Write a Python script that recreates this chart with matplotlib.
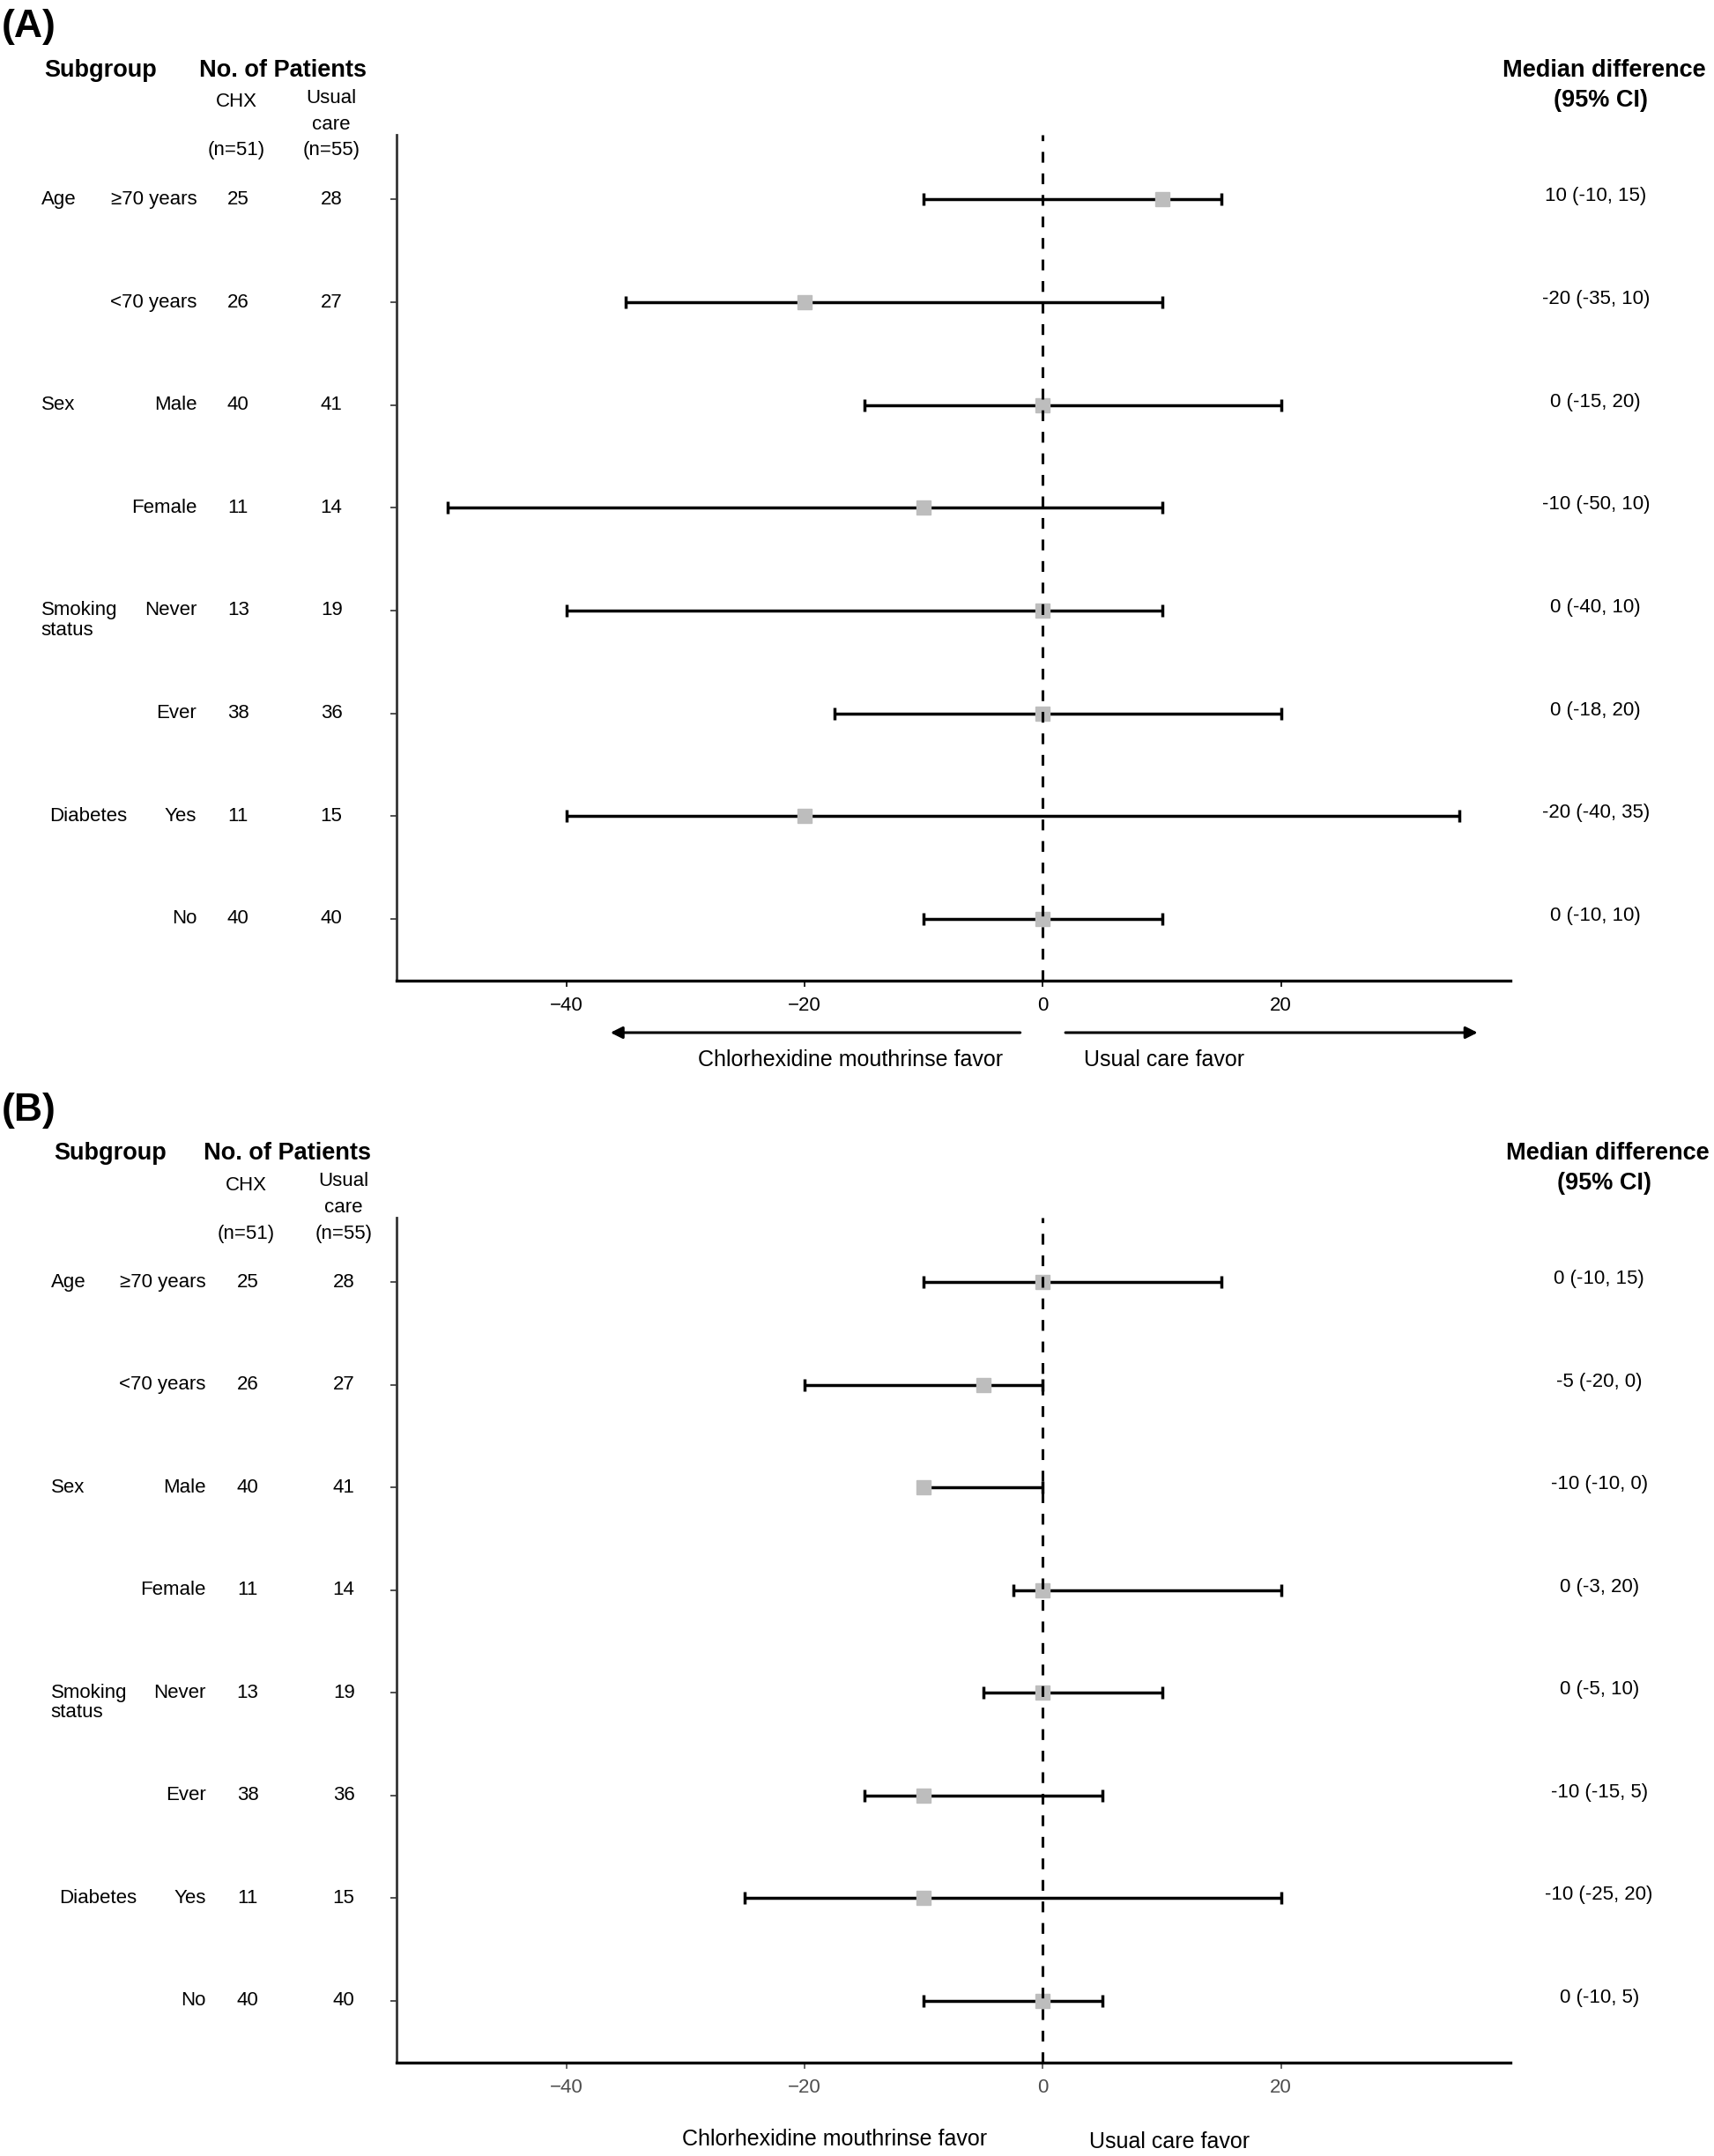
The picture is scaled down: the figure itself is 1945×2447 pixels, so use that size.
import numpy as np
import matplotlib.pyplot as plt
from matplotlib.transforms import blended_transform_factory

plt.rcParams['font.family'] = ['Liberation Sans', 'DejaVu Sans']

# rows top to bottom
groups = ['Age', '', 'Sex', '', 'Smoking\nstatus', '', 'Diabetes', '']
levels = ['≥70 years', '<70 years', 'Male', 'Female', 'Never', 'Ever', 'Yes', 'No']
n_chx = [25, 26, 40, 11, 13, 38, 11, 40]
n_usual = [28, 27, 41, 14, 19, 36, 15, 40]

# panel A
med_a = [10, -20, 0, -10, 0, 0, -20, 0]
lo_a = [-10, -35, -15, -50, -40, -17.5, -40, -10]
hi_a = [15, 10, 20, 10, 10, 20, 35, 10]
lab_a = ['10 (-10, 15)', '-20 (-35, 10)', '0 (-15, 20)', '-10 (-50, 10)',
         '0 (-40, 10)', '0 (-18, 20)', '-20 (-40, 35)', '0 (-10, 10)']

# panel B
med_b = [0, -5, -10, 0, 0, -10, -10, 0]
lo_b = [-10, -20, -10, -2.5, -5, -15, -25, -10]
hi_b = [15, 0, 0, 20, 10, 5, 20, 5]
lab_b = ['0 (-10, 15)', '-5 (-20, 0)', '-10 (-10, 0)', '0 (-3, 20)',
         '0 (-5, 10)', '-10 (-15, 5)', '-10 (-25, 20)', '0 (-10, 5)']

xticks = [-40, -20, 0, 20]

fig = plt.figure(figsize=(19.45, 24.47), dpi=100)
FS = 16
HFS = 19.5


def panel(rect, med, lo, hi, labs, tick_color, letter, top, xs):
    ax = fig.add_axes(rect)
    y = np.arange(len(med), 0, -1)
    med = np.array(med)
    err = [med - np.array(lo), np.array(hi) - med]
    ax.errorbar(med, y, xerr=err, fmt='none', ecolor='black', elinewidth=2.5,
                capsize=5, capthick=2.5, zorder=2)
    ax.plot(med, y, 's', color='#bdbdbd', markersize=12, zorder=3)
    ax.axvline(0, color='black', linestyle=(0, (4, 4)), linewidth=2.2, zorder=4)
    ax.set_xlim(-54.25, 39.25)
    ax.set_ylim(0.4, 8.63)
    ax.set_yticks(y)
    ax.set_yticklabels([])
    ax.set_xticks(xticks)
    ax.set_xticklabels([str(t).replace('-', '\u2212') for t in xticks])
    ax.tick_params(axis='x', labelsize=16, colors=tick_color, length=5, width=1.2, pad=8)
    ax.tick_params(axis='y', length=5, width=1.2, colors='#333333')
    for s in ['top', 'right']:
        ax.spines[s].set_visible(False)
    ax.spines['left'].set_color('#333333')
    ax.spines['left'].set_linewidth(2)
    ax.spines['bottom'].set_color('black')
    ax.spines['bottom'].set_linewidth(2.4)

    tr = blended_transform_factory(fig.transFigure, ax.transData)
    for i, yy in enumerate(y):
        g = groups[i]
        if g:
            gx = xs['grp'] + (0.005 if g == 'Diabetes' else 0)
            if '\n' in g:
                ax.text(gx, yy + 0.09, g, transform=tr, ha='left', va='top',
                        fontsize=FS, linespacing=1.08)
            else:
                ax.text(gx, yy, g, transform=tr, ha='left', va='center', fontsize=FS)
        ax.text(xs['lvl'], yy, levels[i], transform=tr, ha='right', va='center', fontsize=FS)
        ax.text(xs['chx'], yy, str(n_chx[i]), transform=tr, ha='center', va='center', fontsize=FS)
        ax.text(xs['usual'], yy, str(n_usual[i]), transform=tr, ha='center', va='center', fontsize=FS)
        ax.text(xs['val'], yy + 0.03, labs[i], transform=tr, ha='center', va='center', fontsize=FS)

    # headers
    fig.text(0.001, top + 0.020, letter, fontsize=32, fontweight='bold', ha='left', va='center')
    fig.text(xs['grp'] + 0.002, top, 'Subgroup', fontsize=HFS, fontweight='bold', ha='left', va='center')
    fig.text(xs['nop'], top, 'No. of Patients', fontsize=HFS, fontweight='bold', ha='left', va='center')
    fig.text(xs['chx'] - 0.001, top - 0.0148, 'CHX', fontsize=FS, ha='center', va='center')
    fig.text(xs['chx'] - 0.001, top - 0.0372, '(n=51)', fontsize=FS, ha='center', va='center')
    fig.text(xs['usual'], top - 0.0130, 'Usual', fontsize=FS, ha='center', va='center')
    fig.text(xs['usual'], top - 0.0252, 'care', fontsize=FS, ha='center', va='center')
    fig.text(xs['usual'], top - 0.0372, '(n=55)', fontsize=FS, ha='center', va='center')
    fig.text(xs['val'] + 0.005, top, 'Median difference', fontsize=HFS, fontweight='bold', ha='center', va='center')
    fig.text(xs['val'] + 0.003, top - 0.0140, '(95% CI)', fontsize=HFS, fontweight='bold', ha='center', va='center')
    return ax


xs_a = dict(grp=0.024, lvl=0.1148, chx=0.1390, usual=0.1934, val=0.931, nop=0.1164)
ax_a = panel([0.2314, 0.5452, 0.6498, 0.3923], med_a, lo_a, hi_a, lab_a, 'black', '(A)', 0.9675, xs_a)

xs_b = dict(grp=0.0297, lvl=0.1200, chx=0.1445, usual=0.2006, val=0.933, nop=0.1188)
ax_b = panel([0.2314, 0.0434, 0.6498, 0.3918], med_b, lo_b, hi_b, lab_b, '#4d4d4d', '(B)', 0.4650, xs_b)

# direction arrows and labels
trA = blended_transform_factory(ax_a.transData, fig.transFigure)
arrow_y = 1 - 751 / 1568
ax_a.annotate('', xy=(-36.3, arrow_y), xytext=(-1.9, arrow_y), xycoords=trA,
              textcoords=trA, annotation_clip=False,
              arrowprops=dict(arrowstyle='-|>', color='black', lw=2.2, mutation_scale=20,
                              shrinkA=0, shrinkB=0))
ax_a.annotate('', xy=(36.5, arrow_y), xytext=(1.9, arrow_y), xycoords=trA,
              textcoords=trA, annotation_clip=False,
              arrowprops=dict(arrowstyle='-|>', color='black', lw=2.2, mutation_scale=20,
                              shrinkA=0, shrinkB=0))
fig.text(618 / 1246, 1 - 771 / 1568, 'Chlorhexidine mouthrinse favor', fontsize=18, ha='center', va='center')
fig.text(846 / 1246, 1 - 771 / 1568, 'Usual care favor', fontsize=18, ha='center', va='center')
fig.text(607 / 1246, 1 - 1556 / 1568, 'Chlorhexidine mouthrinse favor', fontsize=18, ha='center', va='center')
fig.text(850 / 1246, 1 - 1558 / 1568, 'Usual care favor', fontsize=18, ha='center', va='center')

fig.savefig('out.png', dpi=100, facecolor='white')
